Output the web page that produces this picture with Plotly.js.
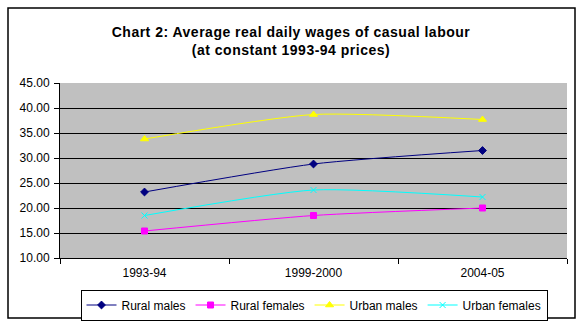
<!DOCTYPE html>
<html>
<head>
<meta charset="utf-8">
<script src="https://cdn.plot.ly/plotly-3.0.1.min.js"></script>
<style>
html,body{margin:0;padding:0;background:#fff;}
#chart{width:582px;height:326px;}
.gtitle{letter-spacing:0.5px;}
</style>
</head>
<body>
<div id="chart"></div>
<script>
const categories = ["1993-94", "1999-2000", "2004-05"];
const ruralMales = [23.2, 28.8, 31.5];
const ruralFemales = [15.4, 18.5, 20.0];
const urbanMales = [33.8, 38.7, 37.7];
const urbanFemales = [18.5, 23.6, 22.2];
const seriesNames = ["Rural males", "Rural females", "Urban males", "Urban females"];

const FONT = "Arial, 'Liberation Sans', sans-serif";

function mk(name, y, color, symbol, size) {
  return {
    type: "scatter", mode: "lines+markers", name: name,
    x: categories, y: y,
    line: {color: color, width: 1, shape: "spline", smoothing: 0.6},
    marker: {color: color, symbol: symbol, size: size, line: {color: color, width: 1}}
  };
}

const data = [
  mk(seriesNames[0], ruralMales, "#000080", "diamond", 6),
  mk(seriesNames[1], ruralFemales, "#FF00FF", "square", 6),
  mk(seriesNames[2], urbanMales, "#FFFF00", "triangle-up", 7),
  mk(seriesNames[3], urbanFemales, "#00FFFF", "x-thin", 6)
];

const L = 60, R = 15, T = 83, B = 68;
const W = 582 - L - R, H = 326 - T - B;
const px = x => (x - L) / W;
const py = y => (326 - B - y) / H;

const layout = {
  width: 582, height: 326,
  margin: {l: L, r: R, t: T, b: B, autoexpand: false},
  paper_bgcolor: "#ffffff",
  plot_bgcolor: "#C0C0C0",
  font: {family: FONT, size: 12, color: "#000"},
  title: {
    text: "<b>Chart 2: Average real daily wages of casual labour<br>(at constant 1993-94 prices)</b>",
    font: {family: FONT, size: 14, color: "#000"},
    x: 0.5, xanchor: "center",
    y: 1 - 37 / 326, yanchor: "middle"
  },
  xaxis: {
    type: "category",
    range: [-0.5, 2.5],
    showline: true, linecolor: "#000", linewidth: 1,
    ticks: "outside", tickson: "boundaries", ticklen: 5, tickcolor: "#000",
    showgrid: false, zeroline: false,
    tickfont: {family: FONT, size: 12, color: "#000"},
    ticklabelstandoff: 4
  },
  yaxis: {
    range: [10, 45], dtick: 5, tick0: 10,
    tickformat: ".2f",
    showline: true, linecolor: "#000", linewidth: 1,
    ticks: "outside", ticklen: 5, tickcolor: "#000",
    showgrid: true, gridcolor: "#000", gridwidth: 1,
    zeroline: false,
    tickfont: {family: FONT, size: 12, color: "#000"},
    ticklabelstandoff: 2
  },
  showlegend: true,
  legend: {
    orientation: "h",
    xref: "container", yref: "container",
    x: 314 / 582, xanchor: "center",
    y: 1 - 305 / 326, yanchor: "middle",
    bordercolor: "#000", borderwidth: 1, bgcolor: "#fff",
    font: {family: FONT, size: 12, color: "#000"},
    itemwidth: 30,
    tracegroupgap: 0
  },
  shapes: [{
    type: "rect", xref: "paper", yref: "paper",
    x0: px(8), x1: px(575), y0: py(318), y1: py(8),
    line: {color: "#000", width: 1.5}, fillcolor: "rgba(0,0,0,0)", layer: "above"
  }]
};

Plotly.newPlot("chart", data, layout, {displayModeBar: false, staticPlot: true});
</script>
</body>
</html>
